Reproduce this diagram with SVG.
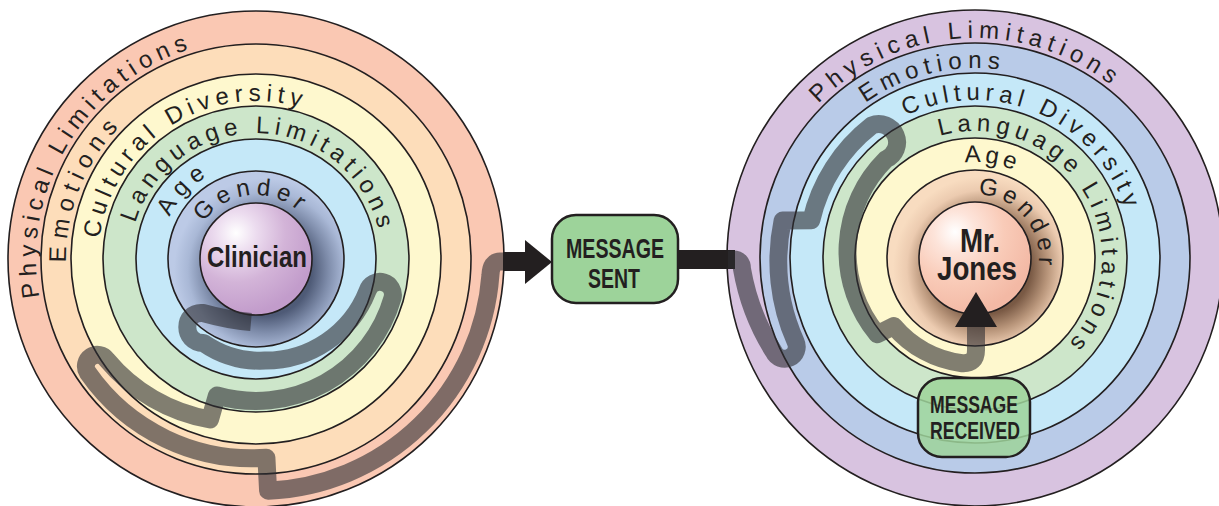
<svg xmlns="http://www.w3.org/2000/svg" width="1219" height="506" viewBox="0 0 1219 506">
<defs>
<style>
.ring{stroke:#231f20;stroke-width:1.6}
.rt{font-family:"Liberation Sans",Arial,sans-serif;font-size:24px;fill:#231f20}
.bt{font-family:"Liberation Sans Narrow","Liberation Sans",Arial,sans-serif;font-weight:bold;fill:#231f20;text-anchor:middle}
.tube{fill:none;stroke:#2d2d32;stroke-opacity:0.6;stroke-width:18;stroke-linejoin:round}
.box{fill:#9dd39a;stroke:#231f20;stroke-width:2.5}
.arrow{fill:#231f20}
</style>
<radialGradient id="gL" gradientUnits="userSpaceOnUse" cx="266" cy="270" r="92">
<stop offset="0" stop-color="#3c4660"/><stop offset="0.5" stop-color="#4f5b77"/><stop offset="0.68" stop-color="#7f8dab"/><stop offset="0.85" stop-color="#a9b8d6"/><stop offset="1" stop-color="#bccae6"/>
</radialGradient>
<radialGradient id="gR" gradientUnits="userSpaceOnUse" cx="985" cy="268" r="92">
<stop offset="0" stop-color="#5a3e2e"/><stop offset="0.5" stop-color="#7a5a45"/><stop offset="0.68" stop-color="#b8957a"/><stop offset="0.85" stop-color="#eccbb0"/><stop offset="1" stop-color="#f8dcc0"/>
</radialGradient>
<radialGradient id="sL" gradientUnits="userSpaceOnUse" cx="236" cy="233" r="82">
<stop offset="0" stop-color="#ffffff"/><stop offset="0.25" stop-color="#ecdcef"/><stop offset="0.6" stop-color="#d3b4d8"/><stop offset="1" stop-color="#c29ccb"/>
</radialGradient>
<radialGradient id="sR" gradientUnits="userSpaceOnUse" cx="955" cy="232" r="82">
<stop offset="0" stop-color="#ffffff"/><stop offset="0.25" stop-color="#fde4da"/><stop offset="0.6" stop-color="#f9cbb8"/><stop offset="1" stop-color="#f3b9a5"/>
</radialGradient>
<path id="l1" d="M 39.3 297.2 A 220 220 0 0 1 225.4 41.1"/>
<path id="l2" d="M 66.0 262.3 A 190 190 0 0 1 147 103.4"/>
<path id="l3" d="M 99.4 238.4 A 158 158 0 0 1 325.3 117"/>
<path id="l4" d="M 135.3 223 A 126 126 0 0 1 381.7 250.2"/>
<path id="l5" d="M 169.7 216.9 A 96 96 0 0 1 223.2 168.8"/>
<path id="l6" d="M 203.6 222.3 A 64 64 0 0 1 308.4 222.3"/>
<path id="r1" d="M 818.4 103.5 A 220 220 0 0 1 1138.5 110.8"/>
<path id="r2" d="M 865.5 102.8 A 190 190 0 0 1 1033.7 77.3"/>
<path id="r3" d="M 905.7 116 A 158 158 0 0 1 1131.1 233.3"/>
<path id="r4" d="M 939.8 136 A 127 127 0 0 1 1053.7 357.7"/>
<path id="r5" d="M 964.8 162.5 A 96 96 0 0 1 1030.1 179.4"/>
<path id="r6" d="M 978 194.1 A 64 64 0 0 1 1036.5 275.6"/>
</defs>

<g id="clinician-rings">
<circle class="ring" cx="256" cy="259" r="248" fill="#fac8b3"/>
<circle class="ring" cx="256" cy="259" r="215" fill="#fdddba"/>
<circle class="ring" cx="256" cy="259" r="185" fill="#fef8ce"/>
<circle class="ring" cx="256" cy="259" r="153" fill="#cde6ca"/>
<circle class="ring" cx="256" cy="259" r="120" fill="#c5e8f8"/>
<circle class="ring" cx="256" cy="259" r="88" fill="url(#gL)"/>
<text class="rt"><textPath href="#l1" textLength="315" lengthAdjust="spacing">Physical Limitations</textPath></text>
<text class="rt"><textPath href="#l2" textLength="148" lengthAdjust="spacing">Emotions</textPath></text>
<text class="rt"><textPath href="#l3" textLength="272" lengthAdjust="spacing">Cultural Diversity</textPath></text>
<text class="rt"><textPath href="#l4" textLength="328" lengthAdjust="spacing">Language Limitations</textPath></text>
<text class="rt"><textPath href="#l5" textLength="55" lengthAdjust="spacing">Age</textPath></text>
<text class="rt"><textPath href="#l6" textLength="107" lengthAdjust="spacing">Gender</textPath></text>
</g>

<g id="mrjones-rings">
<circle class="ring" cx="975" cy="258" r="248" fill="#d8c3e0"/>
<circle class="ring" cx="975" cy="258" r="215" fill="#b9cbe8"/>
<circle class="ring" cx="975" cy="258" r="185" fill="#c5e8f8"/>
<circle class="ring" cx="975" cy="258" r="152" fill="#cde6ca"/>
<circle class="ring" cx="975" cy="258" r="120" fill="#fef8ce"/>
<circle class="ring" cx="975" cy="258" r="88" fill="url(#gR)"/>
<text class="rt"><textPath href="#r1" textLength="320" lengthAdjust="spacing">Physical Limitations</textPath></text>
<text class="rt"><textPath href="#r2" textLength="141" lengthAdjust="spacing">Emotions</textPath></text>
<text class="rt"><textPath href="#r3" textLength="269" lengthAdjust="spacing">Cultural Diversity</textPath></text>
<text class="rt"><textPath href="#r4" textLength="328" lengthAdjust="spacing">Language Limitations</textPath></text>
<text class="rt"><textPath href="#r5" textLength="50" lengthAdjust="spacing">Age</textPath></text>
<text class="rt"><textPath href="#r6" textLength="104" lengthAdjust="spacing">Gender</textPath></text>
</g>

<g id="node-clinician">
<circle class="ring" cx="256" cy="259" r="56" fill="url(#sL)"/>
<text class="bt" x="257" y="267" font-size="30" textLength="100" lengthAdjust="spacingAndGlyphs">Clinician</text>
</g>

<g id="node-mrjones">
<circle class="ring" cx="975" cy="258" r="56" fill="url(#sR)"/>
<text class="bt" x="980" y="252" font-size="33" textLength="40" lengthAdjust="spacingAndGlyphs">Mr.</text>
<text class="bt" x="977" y="280" font-size="33" textLength="80" lengthAdjust="spacingAndGlyphs">Jones</text>
</g>

<g id="connectors">
<path class="tube" d="M 251 322 Q 228 320 203 313 C 182 311 182 343 203.5 343 A 100 100 0 0 0 264.9 360.6 A 110 110 0 0 0 367.5 291 A 13 13 0 0 1 392.5 298.1 A 142 142 0 0 1 216.9 395.5 L 210 419.5 A 173 173 0 0 1 106.8 359.7 A 11.5 11.5 0 0 0 87.7 372.5 A 200 200 0 0 0 266.4 457.7 L 268.1 490.7 A 233 233 0 0 0 490.4 275.4 Q 491 261.5 500 261.5 L 506 261.5"/>
<rect class="arrow" x="503" y="252" width="25" height="19"/>
<polygon class="arrow" points="525,240 552,262 525,284"/>
<rect class="arrow" x="677" y="250" width="58" height="19"/>
<path class="tube" d="M 728 259.5 L 733 259.5 Q 742 259.5 742 269 A 228 228 0 0 0 773.8 351.8 A 12 12 0 0 0 795.6 341.7 A 198 198 0 0 1 782.6 220.6 L 811.3 220.2 A 168 168 0 0 1 871.6 125.6 A 17.5 17.5 0 0 1 886 159.2 A 130 130 0 0 0 877.3 334.3 L 893.8 326.1 A 106 106 0 0 0 962.1 363.2 Q 976 364 976 350 L 976 322"/>
<polygon class="arrow" points="976,292 997,327 955,327"/>
</g>

<g id="node-message-sent">
<rect class="box" x="552" y="215" width="126" height="88" rx="24"/>
<text class="bt" x="615" y="258" font-size="28" textLength="98" lengthAdjust="spacingAndGlyphs">MESSAGE</text>
<text class="bt" x="614" y="288" font-size="28" textLength="52" lengthAdjust="spacingAndGlyphs">SENT</text>
</g>

<g id="node-message-received">
<rect class="box" x="918" y="378" width="112" height="79" rx="24" fill-opacity="0.85"/>
<text class="bt" x="974" y="413" font-size="24" textLength="88" lengthAdjust="spacingAndGlyphs">MESSAGE</text>
<text class="bt" x="975" y="439" font-size="24" textLength="90" lengthAdjust="spacingAndGlyphs">RECEIVED</text>
</g>
</svg>
